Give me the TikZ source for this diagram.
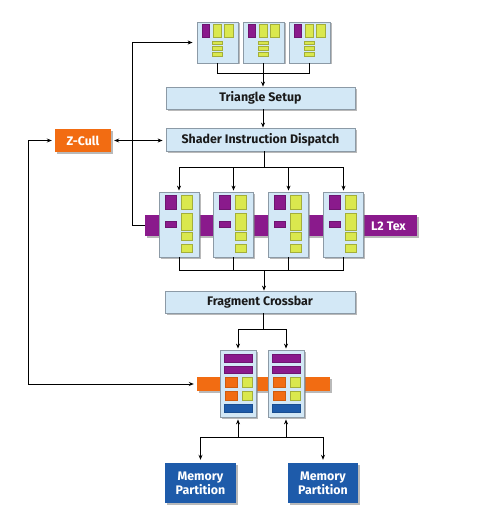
\documentclass[tikz,border=0pt]{standalone}
\usepackage{fontspec}
\setsansfont{Fira Sans}
\usetikzlibrary{arrows.meta,shadows}
\definecolor{boxfill}{HTML}{D3E8F6}
\definecolor{boxline}{HTML}{8C9AA6}
\definecolor{vpurple}{HTML}{8A1A8C}
\definecolor{vyellow}{HTML}{DAE84E}
\definecolor{vorange}{HTML}{F26C12}
\definecolor{vblue}{HTML}{1E5BAA}
\definecolor{txt}{HTML}{1A1A1A}
\tikzset{
  lblfont/.style={font=\sffamily\bfseries\fontsize{12.4}{14}\selectfont},
  shad/.style={drop shadow={shadow xshift=1.5pt,shadow yshift=-1.5pt,fill=black!50,opacity=0.55}},
  unitbox/.style={draw=boxline, fill=boxfill, line width=0.8pt, shad, inner sep=0pt},
  widebox/.style={unitbox, minimum width=189pt, minimum height=22pt, text=txt, lblfont},
  colbox/.style={shad, inner sep=0pt, text=white, lblfont},
  bar/.style={shad, inner sep=0pt},
  wire/.style={line width=0.9pt, draw=black},
  arr/.style={wire, -{Stealth[length=5pt,width=4pt]}},
  dblarr/.style={wire, {Stealth[length=5pt,width=4pt]}-{Stealth[length=5pt,width=4pt]}},
  ye/.style={fill=vyellow, draw=vyellow!75!black, line width=0.3pt},
  pu/.style={fill=vpurple, draw=vpurple!80!black, line width=0.3pt},
  orr/.style={fill=vorange, draw=vorange!85!black, line width=0.3pt},
  bl/.style={fill=vblue, draw=vblue!85!black, line width=0.3pt},
  topinner/.pic={
    \path[pu] (-15.5,-18.5) rectangle (-8.5,-5.5);
    \path[ye] (-4.5,-18.5) rectangle (3.5,-5.5);
    \path[ye] (6.5,-18.5) rectangle (15.5,-5.5);
    \foreach \a/\b in {-1.5/1.5, 3.5/7.5, 9.5/13.5} \path[ye] (-5.5,\a) rectangle (4.5,\b);
  },
  shaderinner/.pic={
    \path[pu] (-14,-29.5) rectangle (-3,-15.5);
    \path[ye] (2,-29.5) rectangle (13,-15.5);
    \path[ye] (2,-11.5) rectangle (13,5.5);
    \path[pu] (-14,-3.5) rectangle (-3,2.5);
    \path[ye] (2,7.5) rectangle (13,15.5);
    \path[ye] (2,19.5) rectangle (13,27.5);
  },
  ropinner/.pic={
    \path[pu] (-14,-29.5) rectangle (14,-21.5);
    \path[pu] (-14,-17.5) rectangle (14,-10.5);
    \path[orr] (-13,-6.5) rectangle (-1,3.5);
    \path[orr] (-13,7.5) rectangle (-1,16.5);
    \path[ye] (4,-6.5) rectangle (14,3.5);
    \path[ye] (4,7.5) rectangle (14,16.5);
    \path[bl] (-14,20.5) rectangle (14,28.5);
  }
}
\begin{document}
\begin{tikzpicture}[x=1pt,y=-1pt]
\fill[white] (0,0) rectangle (480,519);
\useasboundingbox (0,0) rectangle (480,519);

% bars (behind units)
\node[bar, fill=vpurple, minimum width=272pt, minimum height=21pt] (l2) at (281,225.5) {};
\node[text=white, lblfont, inner sep=0pt] (l2t) at (388.5,226) {L2 Tex};
\node[bar, fill=vorange, minimum width=133pt, minimum height=14pt] (ob) at (263.5,384) {};

% top units
\foreach \n/\x in {tb1/217.5, tb2/263.5, tb3/309.5} {
  \node[unitbox, minimum width=41pt, minimum height=41pt] (\n) at (\x,42.5) {};
  \pic at (\n.center) {topinner};
}

\node[widebox] (ts) at (260.5,98) {Triangle Setup};
\node[widebox, minimum height=23pt] (sid) at (260.5,139.5) {Shader Instruction Dispatch};
\node[colbox, fill=vorange, minimum width=56pt, minimum height=23pt] (zc) at (83,140.5) {Z-Cull};

% shader units
\foreach \n/\x in {sp1/179, sp2/233.5, sp3/288.5, sp4/343.5} {
  \node[unitbox, minimum width=40pt, minimum height=65pt] (\n) at (\x,224.5) {};
  \pic at (\n.center) {shaderinner};
}

\node[widebox, minimum width=190pt] (fc) at (260,302) {Fragment Crossbar};

% ROP units
\foreach \n/\x in {rop1/238, rop2/286} {
  \node[unitbox, minimum width=36pt, minimum height=67pt] (\n) at (\x,383.5) {};
  \pic at (\n.center) {ropinner};
}

\node[colbox, fill=vblue, minimum width=71pt, minimum height=40pt, align=center] (mp1) at (200.5,483) {Memory\\Partition};
\node[colbox, fill=vblue, minimum width=70pt, minimum height=40pt, align=center] (mp2) at (323,483) {Memory\\Partition};

% junctions
\coordinate (jt) at (263,73);
\coordinate (jd) at (264,167);
\coordinate (jb) at (264,270);
\coordinate (jr) at (263,329);
\coordinate (jm) at (260,437);
\coordinate (cl) at (132,0);
\coordinate (cz) at (28,0);

% top bracket
\draw[wire] (tb1.south) -- (tb1.south |- jt) -- (tb3.south |- jt) -- (tb3.south);
\draw[wire] (tb2.south) -- (tb2.south |- jt);
\draw[arr] (jt) -- (jt |- ts.north);
\draw[arr] (jt |- ts.south) -- (jt |- sid.north);

% dispatch
\draw[wire] (jd |- sid.south) -- (jd);
\draw[wire] (sp1.north |- jd) -- (sp4.north |- jd);
\foreach \n in {sp1,sp2,sp3,sp4} \draw[arr, shorten >=1pt] (\n.north |- jd) -- (\n.north);

% bottom bracket
\draw[wire] (sp1.south) -- (sp1.south |- jb) -- (sp4.south |- jb) -- (sp4.south);
\draw[wire] (sp2.south) -- (sp2.south |- jb);
\draw[wire] (sp3.south) -- (sp3.south |- jb);
\draw[arr] (jb) -- (jb |- fc.north);

% crossbar to ROPs
\draw[wire] (jr |- fc.south) -- (jr);
\draw[wire] (rop1.north |- jr) -- (rop2.north |- jr);
\foreach \n in {rop1,rop2} \draw[arr, shorten >=1pt] (\n.north |- jr) -- (\n.north);

% memory
\draw[wire] (mp1.north |- jm) -- (mp2.north |- jm);
\foreach \n in {mp1,mp2} \draw[arr, shorten >=3pt] (\n.north |- jm) -- (\n.north);
\foreach \n in {rop1,rop2} \draw[arr, shorten >=2pt] (\n.south |- jm) -- (\n.south);

% Z-Cull links
\draw[dblarr, shorten <=3pt, shorten >=3pt] (zc.east) -- (zc.east -| sid.west);
\draw[arr, shorten >=4pt] (l2.west) -- (l2.west -| cl) |- (tb1.west);
\draw[dblarr, shorten <=3pt, shorten >=3pt] (zc.west) -- (zc.west -| cz) |- (ob.west);
\end{tikzpicture}
\end{document}
